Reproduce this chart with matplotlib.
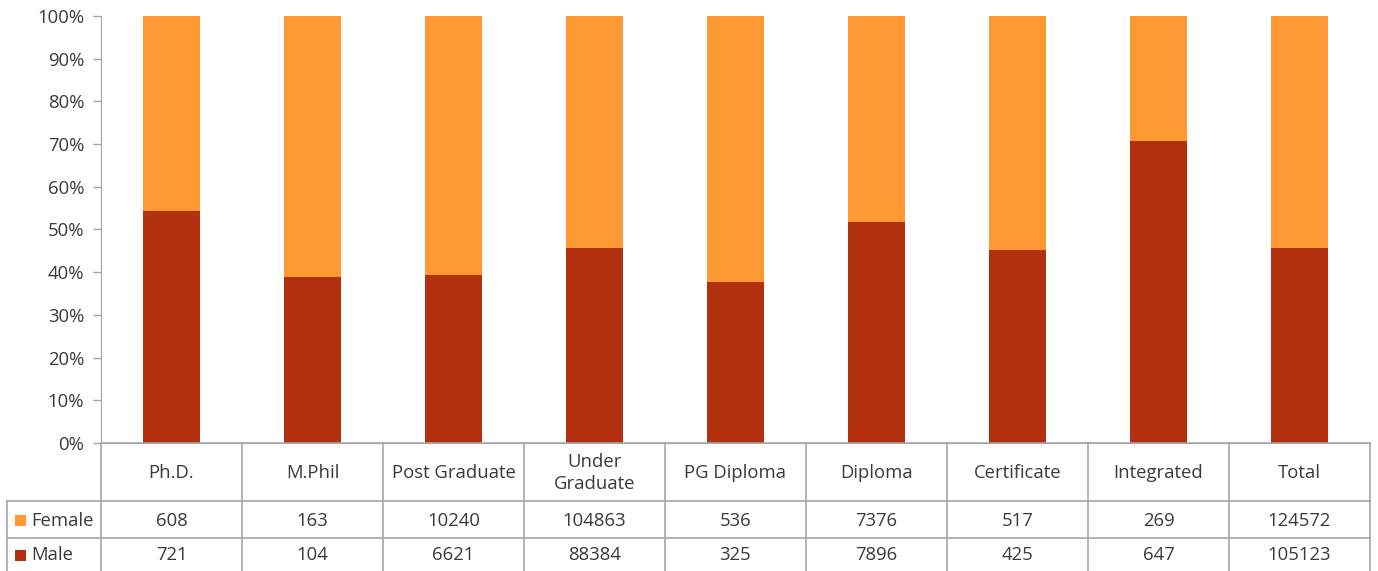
import matplotlib
matplotlib.use("Agg")
import matplotlib.pyplot as plt
from matplotlib.patches import Rectangle
from matplotlib.lines import Line2D

categories = ["Ph.D.", "M.Phil", "Post Graduate", "Under\nGraduate", "PG Diploma",
              "Diploma", "Certificate", "Integrated", "Total"]
female = [608, 163, 10240, 104863, 536, 7376, 517, 269, 124572]
male = [721, 104, 6621, 88384, 325, 7896, 425, 647, 105123]

MALE_C = "#B3300E"
FEMALE_C = "#FF9933"
GRID = "#A6A6A6"
TXT = "#3A3A3A"
FS = 13.3

plt.rcParams["font.family"] = ["Open Sans", "DejaVu Sans"]

W, H = 1378, 571
fig = plt.figure(figsize=(W / 100, H / 100), dpi=100)

# axes box in pixel coords
AX_L, AX_R, AX_T, AX_B = 101, 1370, 16, 443
ax = fig.add_axes([AX_L / W, 1 - AX_B / H, (AX_R - AX_L) / W, (AX_B - AX_T) / H])

n = len(categories)
x = list(range(n))
tot = [f + m for f, m in zip(female, male)]
male_pct = [m / t * 100 for m, t in zip(male, tot)]
female_pct = [f / t * 100 for f, t in zip(female, tot)]

ax.bar(x, male_pct, width=0.4, color=MALE_C, zorder=2)
ax.bar(x, female_pct, width=0.4, bottom=male_pct, color=FEMALE_C, zorder=2)

ax.set_xlim(-0.5, n - 0.5)
ax.set_ylim(0, 100)
ax.set_yticks(range(0, 101, 10))
ax.set_yticklabels([f"{v}%" for v in range(0, 101, 10)], fontsize=FS, color=TXT)
ax.tick_params(axis="y", length=6, color=GRID, width=1, pad=6)
ax.set_xticks([])
for s in ["top", "right"]:
    ax.spines[s].set_visible(False)
ax.spines["left"].set_color(GRID)
ax.spines["bottom"].set_color(GRID)


def px(xp, yp):
    return xp / W, 1 - yp / H


def hline(x0, x1, y):
    a, b = px(x0, y), px(x1, y)
    fig.add_artist(Line2D([a[0], b[0]], [a[1], b[1]], color=GRID, lw=1.2))


def vline(xp, y0, y1):
    a, b = px(xp, y0), px(xp, y1)
    fig.add_artist(Line2D([a[0], b[0]], [a[1], b[1]], color=GRID, lw=1.2))


# data table under the axis
ROW_HDR, ROW_F, ROW_M, ROW_END = 443, 501, 538, 571
LEFT = 7
colw = (AX_R - AX_L) / n

hline(AX_L, AX_R, ROW_HDR)
hline(LEFT, AX_R, ROW_F)
hline(LEFT, AX_R, ROW_M)
vline(LEFT, ROW_F, ROW_END)
for i in range(n + 1):
    vline(AX_L + i * colw, ROW_HDR, ROW_END)

for i, c in enumerate(categories):
    cx = AX_L + (i + 0.5) * colw
    fig.text(*px(cx, (ROW_HDR + ROW_F) / 2 + 1), c, ha="center", va="center",
             fontsize=FS, color=TXT, linespacing=1.35)
    fig.text(*px(cx, (ROW_F + ROW_M) / 2 + 1), str(female[i]), ha="center", va="center",
             fontsize=FS, color=TXT)
    fig.text(*px(cx, (ROW_M + ROW_END) / 2 + 1), str(male[i]), ha="center", va="center",
             fontsize=FS, color=TXT)

for label, color, (y0, y1) in [("Female", FEMALE_C, (ROW_F, ROW_M)),
                               ("Male", MALE_C, (ROW_M, ROW_END))]:
    ym = (y0 + y1) / 2 + 1
    sx, sy = px(15, ym + 5.5)
    fig.add_artist(Rectangle((sx, sy), 11 / W, 11 / H, transform=fig.transFigure,
                             facecolor=color, edgecolor="none"))
    fig.text(*px(31, ym), label, ha="left", va="center", fontsize=FS, color=TXT)

fig.savefig("out.png", dpi=100)
